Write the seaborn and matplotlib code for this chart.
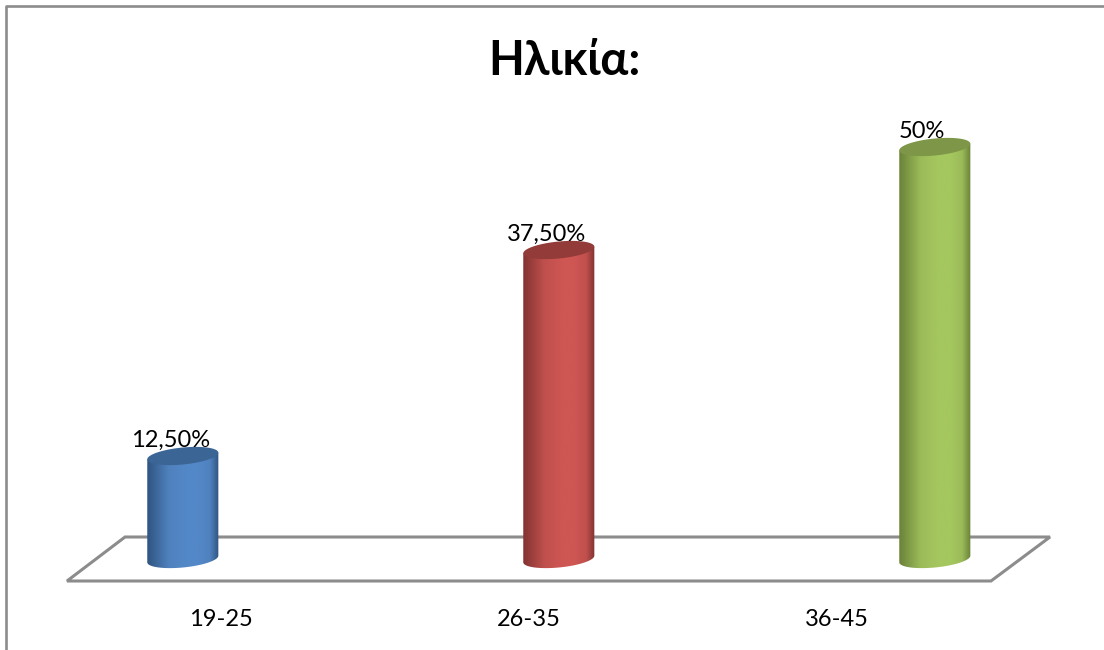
import numpy as np
import pandas as pd
import seaborn as sns
from matplotlib import pyplot as plt
from matplotlib.colors import LinearSegmentedColormap
from matplotlib.patches import PathPatch, Polygon
from matplotlib.path import Path

categories = ['19-25', '26-35', '36-45']
values = [12.5, 37.5, 50]
value_labels = ['12,50%', '37,50%', '50%']
title_text = 'Ηλικία:'

base_colors = ['#4F81BD', '#C0504D', '#9BBB59']
edge_colors = ['#2F5480', '#823331', '#6A8239']
light_colors = ['#5388C8', '#CE5653', '#A5C75F']
top_colors = ['#3B6595', '#933B39', '#7D9647']

sns.set_theme(style='white')
plt.rcParams['font.family'] = ['Lato', 'Open Sans', 'DejaVu Sans']
W, H = 1104, 650
fig = plt.figure(figsize=[W / 100, H / 100], dpi=100)

# background layer in pixels: chart frame and the floor
bg = fig.add_axes([0, 0, 1, 1])
bg.set_xlim(0, W)
bg.set_ylim(H, 0)
bg.axis('off')
bg.plot([6, 6, W], [H, 6, 6], color='#8C8C8C', lw=1.9)
bg.add_patch(Polygon([(67, 581), (991, 581), (1050, 537), (125, 537)], closed=True,
                     fill=False, ec='#8C8C8C', lw=2.2, joinstyle='miter'))

# front edge of the floor carries the category labels
front = fig.add_axes([67 / W, (H - 581) / H, 924 / W, 0.001])
front.set_xlim(-0.5, 2.5)
front.set_xticks(range(3))
front.set_xticklabels(categories, fontsize=17, color='black')
front.set_yticks([])
front.tick_params(axis='x', length=0, pad=20)
sns.despine(ax=front, left=True, bottom=True)
front.patch.set_alpha(0)

# bars: 376 px per category, 8.24 px per percent, zero at y=559
ppu = 8.24
ax = fig.add_axes([70 / W, (H - 579) / H, 977.6 / W, 479 / H])
ax.patch.set_alpha(0)
df = pd.DataFrame({'age': categories, 'pct': values})
sns.barplot(data=df, x='age', y='pct', hue='age', palette=base_colors, width=0.189,
            legend=False, saturation=1, ax=ax)
ax.axis('off')

ry = 8.5 / ppu
tilt = 3.3 / ppu


def rim(xc, w, y, t):
    # tilted ellipse, the right side sits higher than the left
    c = np.cos(t)
    return np.column_stack([xc + w / 2 * c, y + ry * np.sin(t) + tilt * c])


for bar, label, c0, c1, c2, c3 in zip(ax.patches, value_labels, base_colors, edge_colors,
                                      light_colors, top_colors):
    x0, w, h = bar.get_x(), bar.get_width(), bar.get_height()
    xc = x0 + w / 2
    bar.set_visible(False)
    # body with round bottom, shaded left to right
    t = np.linspace(np.pi, 2 * np.pi, 60)
    bottom = rim(xc, w, 0, t)
    verts = np.vstack([[[x0, h - tilt]], bottom, [[x0 + w, h + tilt]], [[x0, h - tilt]]])
    body = PathPatch(Path(verts), transform=ax.transData, fc='none', ec='none')
    ax.add_patch(body)
    cmap = LinearSegmentedColormap.from_list('cyl', [(0, c1), (0.3, c0), (0.55, c2), (0.72, c2),
                                                     (0.88, c0), (1, c1)])
    im = ax.imshow(np.linspace(0, 1, 200).reshape(1, -1), cmap=cmap, aspect='auto',
                   extent=[x0, x0 + w, -2 * ry, h + 2 * ry], zorder=3)
    im.set_clip_path(body)
    top = rim(xc, w, h, np.linspace(0, 2 * np.pi, 120))
    ax.add_patch(Polygon(top, closed=True, fc=c3, ec='none', zorder=4, clip_on=False))
    ax.annotate(label, (xc, h), xytext=(-9, 11.2), textcoords='offset points', ha='center',
                va='center', fontsize=17, color='black', zorder=5)
ax.set_xlim(-0.3, 2.3)
ax.set_ylim(-20 / ppu, 459 / ppu)

fig.text(564 / W, 1 - 61 / H, title_text, ha='center', va='center', fontsize=33.5,
         fontweight='bold', color='black')
fig.savefig('out.png', dpi=100)
